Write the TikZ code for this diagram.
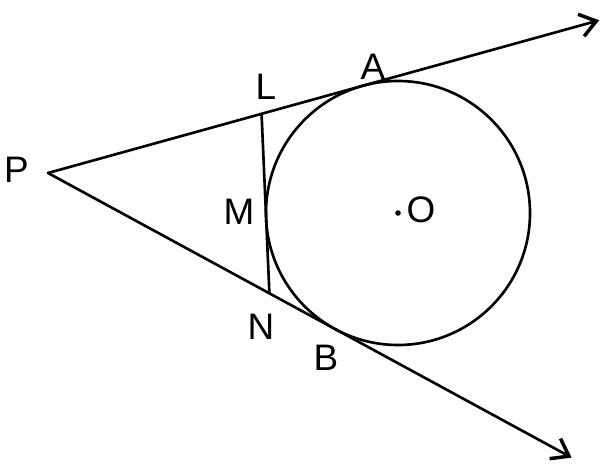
\documentclass[tikz,border=0pt]{standalone}
\usepackage{fontspec}
\setmainfont{Liberation Sans}
\usetikzlibrary{arrows.meta,calc}
\begin{document}
\begin{tikzpicture}[x=0.02cm,y=0.02cm,
  geo/.style={line width=1.5pt,line cap=round},
  ray/.style={geo,-{Straight Barb[length=9pt,width=13pt,line width=2pt]}},
  lab/.style={inner sep=0pt,font=\fontsize{21}{25}\selectfont}]
\useasboundingbox (0,0) rectangle (603,464);
\pgfmathsetmacro{\myr}{132}
\pgfmathsetmacro{\myd}{veclen(350,40)}
\pgfmathsetmacro{\myal}{asin(\myr/\myd)}
\pgfmathsetmacro{\mybe}{atan2(-40,350)}
\pgfmathsetmacro{\myt}{\myd*cos(\myal)}
\coordinate (P) at (48,291);
\coordinate (O) at (398,251);
\coordinate (A) at ($(P)+(\mybe+\myal:\myt)$);
\coordinate (B) at ($(P)+(\mybe-\myal:\myt)$);
\coordinate (Atip) at ($(P)+(\mybe+\myal:572)$);
\coordinate (Btip) at ($(P)+(\mybe-\myal:596)$);
\coordinate (M) at ($(O)+(182.5:\myr)$);
\coordinate (Mu) at ($(M)+(92.5:100)$);
\coordinate (L) at (intersection of M--Mu and P--Atip);
\coordinate (N) at (intersection of M--Mu and P--Btip);
\draw[geo] (O) circle[radius=\myr];
\fill (O) circle[radius=2.8];
\draw[ray] (P) -- (Atip);
\draw[ray] (P) -- (Btip);
\draw[geo] (L) -- (N);
\node[lab] (lP) at (16.5,294) {P};
\node[lab] (lL) at (266,377) {L};
\node[lab] (lA) at (373,397) {A};
\node[lab] (lM) at (239,252) {M};
\node[lab] (lN) at (261,137) {N};
\node[lab] (lB) at (326,106) {B};
\node[lab] (lO) at (421,254) {O};
\end{tikzpicture}
\end{document}
